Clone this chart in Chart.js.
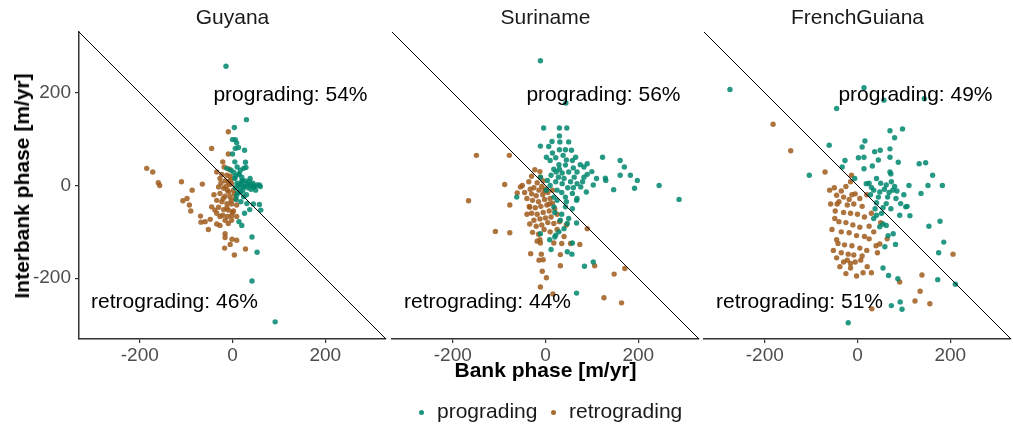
<!DOCTYPE html>
<html>
<head>
<meta charset="utf-8">
<script src="https://cdn.jsdelivr.net/npm/chart.js@4.4.1/dist/chart.umd.min.js"></script>
<style>
  body { margin: 0; width: 1013px; height: 426px; overflow: hidden; background: #fff; position: relative;
         font-family: "Liberation Sans", Arial, sans-serif; }
  canvas { position: absolute; top: 0; }
  .facet { position: absolute; top: 5px; width: 307px; text-align: center; font-size: 21px; color: #1a1a1a; }
  .axis-title { position: absolute; font-size: 21px; font-weight: bold; color: #000; white-space: nowrap; }
  #xtitle { left: 392px; width: 307px; top: 358px; text-align: center; }
  #ytitle { left: 22px; top: 186px; transform: translate(-50%, -50%) rotate(-90deg); }
  .legend-text { position: absolute; top: 399px; font-size: 21px; color: #1a1a1a; white-space: nowrap; }
  .legend-dot { position: absolute; top: 410px; width: 5px; height: 5px; border-radius: 50%; }
</style>
</head>
<body>
<canvas id="c0"></canvas>
<canvas id="c1"></canvas>
<canvas id="c2"></canvas>
<div class="facet" style="left:79px">Guyana</div>
<div class="facet" style="left:392px">Suriname</div>
<div class="facet" style="left:704px">FrenchGuiana</div>
<div class="axis-title" id="xtitle">Bank phase [m/yr]</div>
<div class="axis-title" id="ytitle">Interbank phase [m/yr]</div>
<span class="legend-dot" style="left:419px;background:#1b9680"></span>
<span class="legend-text" style="left:437px">prograding</span>
<span class="legend-dot" style="left:551px;background:#a96a2c"></span>
<span class="legend-text" style="left:569px">retrograding</span>
<script>
const AXIS_MIN = -331, AXIS_MAX = 331;
const tickValues = [-200, 0, 200];
const regions = ['Guyana', 'Suriname', 'FrenchGuiana'];

// [bank, interbank] pairs in m/yr
const guyanaProg = [[-14,257],[30,142],[4,125],[0,99],[6,99],[9,92],[13,82],[6,80],[26,76],[0,68],[5,51],[28,50],
  [-12,37],[-3,33],[17,33],[24,37],[29,39],[14,24],[6,19],[21,11],[31,4],[42,1],[53,1],[58,1],[45,-3],[35,1],[24,-3],
  [13,1],[17,-14],[9,-21],[24,-24],[31,-39],[45,-40],[58,-41],[37,-52],[61,-53],[14,-78],[20,-86],[42,-111],[53,-144],
  [42,-206],[92,-294],[5,15],[10,5],[15,-5],[20,8],[25,-2],[40,-8],[12,-15],[22,-12],[30,-20],[8,-30],[18,-35],[48,-2],
  [50,-10],[3,28],[10,40],[20,18],[28,10],[38,15],[60,-2],[14,25],[33,-5],[6,-5],[26,-60],[36,8],[44,5],[18,2]];
const guyanaRetro = [[-9,116],[-45,80],[-21,51],[-9,68],[-185,37],[-172,29],[-160,6],[-157,0],[-110,8],[-65,3],[-87,-10],
  [-98,-28],[-107,-33],[-93,-42],[-90,-55],[-69,-66],[-59,-78],[-68,-79],[-48,-73],[-52,-95],[-34,-83],[-27,-86],
  [-16,-104],[-16,-112],[-1,-116],[9,-118],[-17,-135],[-5,-127],[4,-150],[28,-137],[-34,29],[-23,24],[-12,22],[-5,20],
  [-27,15],[-16,10],[-9,8],[-2,4],[-30,-3],[-19,-6],[-11,-10],[2,-10],[-27,-17],[-16,-23],[-5,-24],[6,-28],[-34,-32],
  [-23,-35],[-12,-39],[-2,-40],[9,-42],[-45,-46],[-30,-47],[-19,-52],[-9,-53],[2,-55],[-34,-60],[-21,-64],[-11,-67],
  [-2,-65],[9,-67],[-38,-53],[-27,-67],[-9,-82],[-16,-75],[-2,-75],[-6,2],[-14,-2],[-8,-14],[-20,-28],[-3,-33],[4,-18],
  [-25,5],[-12,-48],[0,-58],[-40,-20],[-7,35],[-18,40],[-4,12]];

const surinameProg = [[-11,269],[44,178],[-4,124],[30,124],[46,124],[30,107],[14,95],[31,94],[50,94],[-11,85],[7,84],
  [30,77],[43,77],[56,76],[65,61],[2,61],[10,54],[29,45],[43,44],[58,54],[90,47],[83,40],[123,61],[161,54],[170,40],
  [23,29],[36,27],[50,29],[68,29],[90,24],[-11,18],[4,11],[22,8],[36,4],[54,8],[68,4],[76,-3],[83,18],[103,1],[129,16],
  [130,11],[161,22],[183,22],[198,11],[147,-9],[192,-6],[245,0],[288,-30],[88,-14],[-62,-25],[58,-17],[68,-28],[43,-25],
  [25,-10],[18,-25],[2,-10],[-11,-104],[22,-107],[40,-93],[47,-82],[32,-75],[50,-71],[67,-81],[9,-117],[20,-111],
  [29,-100],[58,-124],[47,-143],[57,-148],[12,-138],[84,-174],[103,-165],[67,-232],[25,-32],[18,-46],[43,-46],[58,-50],
  [67,-32],[15,70],[22,60],[38,65],[45,55],[18,35],[30,35],[60,38],[75,45],[12,22],[40,15],[62,18],[28,18],[48,-5],
  [35,-15],[60,-5],[80,8],[10,0],[20,-58],[35,-62],[45,-35],[100,30],[110,15]];
const surinameRetro = [[-149,65],[-78,65],[-166,-33],[-88,2],[-77,-42],[-61,-16],[-54,-3],[-36,8],[-23,34],[-11,18],
  [-34,-47],[-108,-99],[-77,-102],[-34,-83],[-28,-101],[-12,-117],[-11,-124],[-32,-147],[-9,-148],[-14,-161],[-5,-160],
  [-7,-185],[2,-199],[-11,-219],[32,-149],[32,-173],[74,-127],[90,-93],[54,-125],[106,-173],[148,-191],[171,-179],
  [126,-242],[164,-253],[16,-234],[18,-124],[-30,20],[-5,10],[-18,6],[-8,-2],[-25,-5],[-14,-10],[0,-8],[-30,-18],
  [-20,-22],[-6,-20],[5,-15],[-40,-28],[-28,-32],[-15,-35],[-2,-30],[10,-28],[-35,-45],[-22,-48],[-10,-45],[3,-42],
  [15,-38],[-30,-60],[-18,-62],[-5,-58],[8,-55],[20,-50],[-25,-75],[-12,-72],[0,-70],[12,-68],[25,-62],[-20,-88],
  [-8,-85],[5,-80],[18,-82],[30,-78],[-3,-95],[10,-100],[-15,-105],[25,-95],[40,-110],[-40,-62],[-45,-15],[-50,0],
  [15,-10],[-12,30],[-2,-12],[-33,-8],[8,-40],[-18,-120],[35,-125],[45,-85]];

const guianaProg = [[-275,207],[14,211],[57,184],[144,187],[-45,166],[70,118],[97,122],[80,103],[16,96],[10,83],[-61,87],
  [37,73],[49,76],[70,79],[2,60],[14,61],[45,55],[70,61],[-27,54],[88,50],[14,36],[32,42],[70,29],[72,25],[133,47],
  [147,49],[-104,22],[-33,40],[162,22],[-6,15],[19,4],[41,15],[62,1],[73,8],[30,-4],[48,-14],[76,-10],[65,-25],[83,-28],
  [93,-39],[104,-46],[62,-39],[41,-37],[55,-48],[111,0],[152,0],[183,0],[137,-17],[107,-45],[113,-65],[154,-88],
  [178,-77],[186,-122],[175,-145],[82,-127],[59,-132],[77,-104],[66,-108],[55,-83],[48,-89],[62,-86],[41,-64],[55,-178],
  [67,-194],[87,-201],[173,-203],[211,-213],[73,-259],[92,-251],[96,-267],[-20,-296],[35,-71],[91,-64],[25,5],[35,-10],
  [50,5],[58,-8],[68,-15],[80,-2],[45,-25],[28,-20],[52,-60],[72,-50],[85,-12],[100,-20],[38,-50]];
const guianaRetro = [[-182,132],[-144,75],[-70,29],[-13,22],[-44,-40],[-49,-71],[-45,-117],[-45,-156],[-22,-161],
  [-15,-168],[-5,-165],[7,-161],[21,-175],[30,-188],[43,-145],[48,-126],[64,-115],[91,-208],[139,-193],[135,-228],
  [124,-249],[156,-255],[31,-266],[206,-148],[-60,-10],[-45,-21],[-50,-5],[-35,-12],[-25,-2],[-15,8],[-30,-25],
  [-18,-30],[-5,-18],[5,-28],[-40,-35],[-22,-42],[-8,-40],[10,-45],[-48,-55],[-30,-58],[-15,-60],[0,-62],[15,-68],
  [-40,-78],[-25,-80],[-10,-85],[5,-90],[25,-88],[-35,-100],[-18,-102],[-2,-108],[15,-110],[-42,-125],[-28,-128],
  [-12,-130],[5,-135],[20,-140],[-35,-145],[-20,-148],[-8,-150],[10,-152],[-30,-165],[-38,-175],[-15,-178],[35,-100],
  [30,-60],[20,-20],[-55,-95],[40,-130],[25,-115],[-52,-140],[-2,-195],[12,-188],[-25,-190],[-58,-40],[-12,-20],[50,-80]];

const progSeries = [guyanaProg, surinameProg, guianaProg];
const retroSeries = [guyanaRetro, surinameRetro, guianaRetro];
const progShare = [54, 56, 49];
const retroShare = [46, 44, 51];

const PROG_COLOR = 'rgba(0,135,110,0.85)';
const RETRO_COLOR = 'rgba(160,92,28,0.85)';
const FONT = '"Liberation Sans", Arial, sans-serif';

// text labels sit on top of the points
const phaseLabels = {
  id: 'phaseLabels',
  afterDatasetsDraw(chart, args, opts) {
    const {ctx, scales: {x, y}} = chart;
    ctx.save();
    ctx.font = '21px ' + FONT;
    ctx.fillStyle = '#000';
    ctx.textAlign = 'center';
    ctx.textBaseline = 'middle';
    opts.items.forEach(it => ctx.fillText(it.text, x.getPixelForValue(it.x), y.getPixelForValue(it.y)));
    ctx.restore();
  }
};

function toPoints(arr) {
  return arr.map(p => ({x: p[0], y: p[1]}));
}

function makePanel(i) {
  const canvas = document.getElementById('c' + i);
  const first = i === 0;
  const left = [0, 388, 700][i];
  const width = first ? 390 : 315;
  canvas.style.left = left + 'px';
  canvas.width = width;
  canvas.height = 372;
  canvas.style.width = width + 'px';
  canvas.style.height = '372px';

  const axisFont = {family: FONT, size: 19};
  const onlyTicks = s => { s.ticks = tickValues.map(v => ({value: v})); };

  return new Chart(canvas.getContext('2d'), {
    type: 'scatter',
    data: {
      datasets: [{
        type: 'line',
        data: [{x: AXIS_MIN, y: -AXIS_MIN}, {x: AXIS_MAX, y: -AXIS_MAX}],
        borderColor: '#000',
        borderWidth: 1,
        pointRadius: 0,
        fill: false,
        order: 0
      }, {
        label: 'prograding',
        data: toPoints(progSeries[i]),
        backgroundColor: PROG_COLOR,
        borderWidth: 0,
        pointRadius: 2.7,
        order: 1
      }, {
        label: 'retrograding',
        data: toPoints(retroSeries[i]),
        backgroundColor: RETRO_COLOR,
        borderWidth: 0,
        pointRadius: 2.7,
        order: 2
      }]
    },
    options: {
      responsive: false,
      animation: false,
      layout: {padding: {left: first ? 0 : 4, right: 4, top: 32, bottom: 0}},
      plugins: {
        legend: {display: false},
        tooltip: {enabled: false},
        phaseLabels: {items: [
          {text: 'prograding: ' + progShare[i] + '%', x: 125, y: 195},
          {text: 'retrograding: ' + retroShare[i] + '%', x: -125, y: -251}
        ]}
      },
      scales: {
        x: {
          type: 'linear', min: AXIS_MIN, max: AXIS_MAX,
          afterBuildTicks: onlyTicks,
          afterFit: s => { s.height = 33; },
          grid: {display: true, drawOnChartArea: false, drawTicks: true, tickLength: 4, color: '#333', lineWidth: 1.2},
          border: {display: true, color: '#333', width: 1.5},
          ticks: {color: '#4d4d4d', font: axisFont, padding: 1, maxRotation: 0}
        },
        y: {
          type: 'linear', min: AXIS_MIN, max: AXIS_MAX,
          display: first,
          afterBuildTicks: onlyTicks,
          afterFit: s => { s.width = first ? 79 : 0; },
          grid: {display: true, drawOnChartArea: false, drawTicks: true, tickLength: 4, color: '#333', lineWidth: 1.2},
          border: {display: true, color: '#333', width: 1.5},
          ticks: {color: '#4d4d4d', font: axisFont, padding: 4}
        }
      }
    },
    plugins: [phaseLabels]
  });
}

regions.forEach((name, i) => makePanel(i));
</script>
</body>
</html>
